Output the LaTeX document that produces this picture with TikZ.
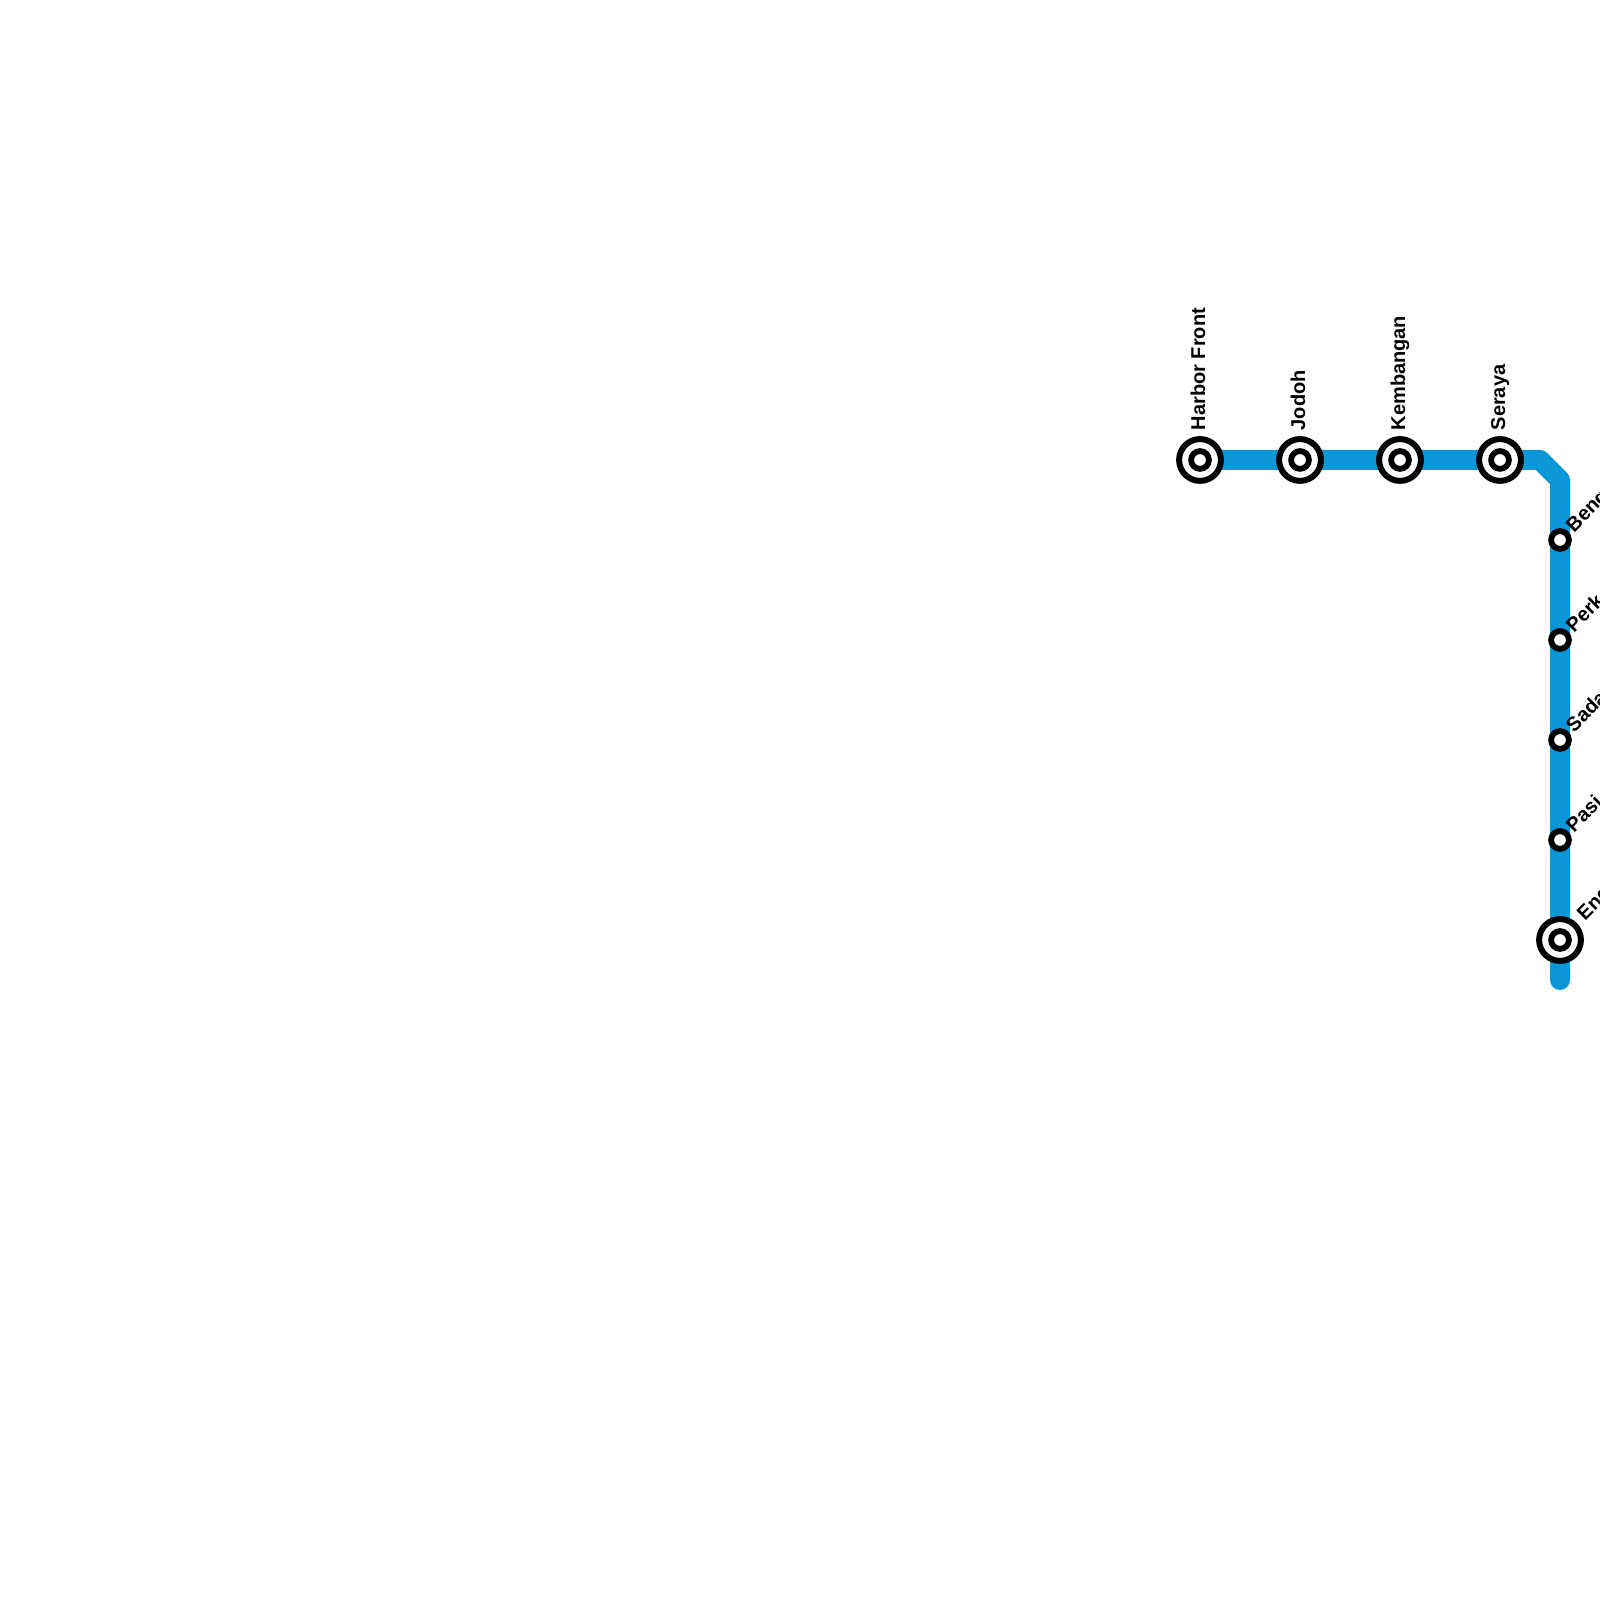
\documentclass[tikz,border=0pt]{standalone}
\usepackage{fontspec}
\setmainfont{Liberation Sans}
\usetikzlibrary{backgrounds}

\begin{document}
\begin{tikzpicture}[font=\fontsize{5.69}{7}\selectfont\bfseries,
  trackline/.style={draw={rgb,255:red,10;green,150;blue,215},line width=0.2cm,line cap=round,line join=round},
  stationbig/.style={circle,draw,fill=white,line width=0.06cm,minimum size=0.418cm,inner sep=0pt},
  stationsmall/.style={circle,draw,fill=white,line width=0.058cm,minimum size=0.178cm,inner sep=0pt},
  uplabel/.style={rotate=90,anchor=west,inner sep=0pt,text height=0.143cm,text depth=0.042cm},
  slantlabel/.style={rotate=45,anchor=west,inner sep=0pt,text height=0.143cm,text depth=0.042cm}]
\useasboundingbox (0,0) rectangle (16,16);
\clip (0,0) rectangle (16,16);
\node[stationbig] (harborbig) at (12.00,11.40) {};
\node[stationsmall] (harbor) at (12.00,11.40) {};
\node[uplabel] (harbortext) at (12.00,11.69) {Harbor Front};
\node[stationbig] (jodohbig) at (13.00,11.40) {};
\node[stationsmall] (jodoh) at (13.00,11.40) {};
\node[uplabel] (jodohtext) at (13.00,11.69) {Jodoh};
\node[stationbig] (kembanganbig) at (14.00,11.40) {};
\node[stationsmall] (kembangan) at (14.00,11.40) {};
\node[uplabel] (kembangantext) at (14.00,11.69) {Kembangan};
\node[stationbig] (serayabig) at (15.00,11.40) {};
\node[stationsmall] (seraya) at (15.00,11.40) {};
\node[uplabel] (serayatext) at (15.00,11.69) {Seraya};
\node[stationsmall] (beng) at (15.60,10.60) {};
\node[slantlabel] (bengtext) at (15.70,10.70) {Beng};
\node[stationsmall] (perk) at (15.60,9.60) {};
\node[slantlabel] (perktext) at (15.70,9.70) {Perk};
\node[stationsmall] (sada) at (15.60,8.60) {};
\node[slantlabel] (sadatext) at (15.70,8.70) {Sada};
\node[stationsmall] (pasi) at (15.60,7.60) {};
\node[slantlabel] (pasitext) at (15.70,7.70) {Pasi};
\node[stationbig] (engbig) at (15.60,6.60) {};
\node[stationsmall] (eng) at (15.60,6.60) {};
\node[slantlabel] (engtext) at (15.81,6.82) {Eng};
\coordinate (bendone) at (15.40,11.40);
\coordinate (bendtwo) at (15.60,11.20);
\coordinate (trackend) at (15.60,6.20);
\begin{scope}[on background layer]
\draw[trackline] (harbor.center) -- (bendone) -- (bendtwo) -- (trackend);
\end{scope}
\end{tikzpicture}
\end{document}
